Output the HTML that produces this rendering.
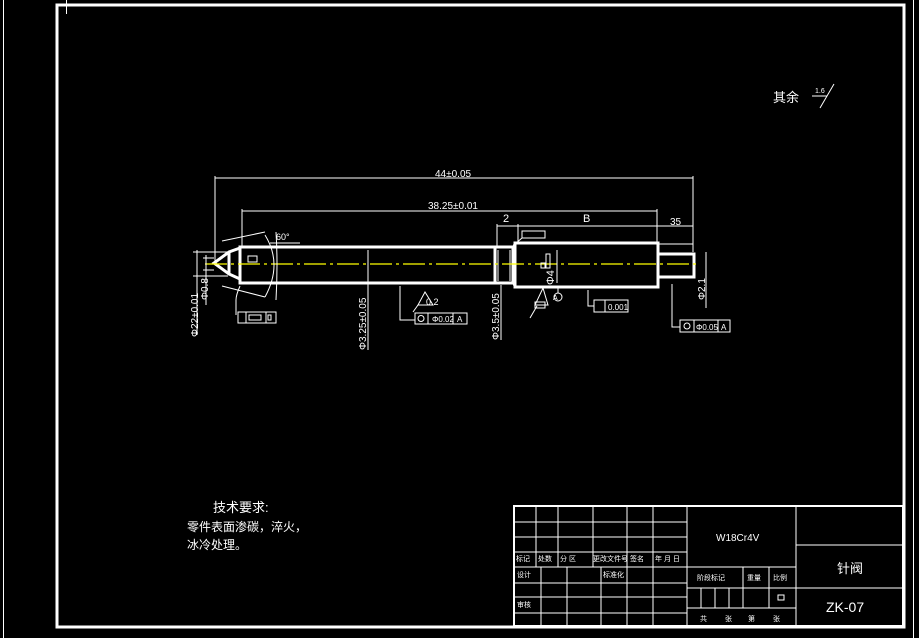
<!DOCTYPE html>
<html><head><meta charset="utf-8"><style>
html,body{margin:0;padding:0;background:#000;width:919px;height:638px;overflow:hidden}
svg{display:block}
text{fill:#fff;font-family:"Liberation Sans","Noto Sans CJK SC",sans-serif}
</style></head><body>
<svg width="919" height="638" viewBox="0 0 919 638">
<g stroke="#fff" fill="none">
<!-- frames -->
<line x1="3.5" y1="0" x2="3.5" y2="638" stroke-width="1"/>
<line x1="913.5" y1="0" x2="913.5" y2="638" stroke-width="1"/>
<rect x="57" y="5" width="847" height="622" stroke-width="3"/>
<line x1="66.5" y1="0" x2="66.5" y2="14" stroke-width="1"/>

<!-- shaft -->
<g stroke-width="3">
<rect x="240" y="247" width="255" height="36"/>
<rect x="495" y="247" width="18" height="36"/>
<rect x="515" y="243" width="143" height="44"/>
<rect x="658" y="254" width="36" height="23"/>
<path d="M240 248 L229 252 L214 263 L229 274 L240 279"/>
<line x1="229" y1="252" x2="229" y2="274"/>
<line x1="513" y1="249" x2="515" y2="244"/>
<line x1="513" y1="281" x2="515" y2="286"/>
</g>
<line x1="498" y1="250" x2="498" y2="281" stroke-width="1"/>
<line x1="510" y1="250" x2="510" y2="281" stroke-width="1"/>
</g>
<!-- centerline -->
<line x1="205" y1="264" x2="700" y2="264" stroke="#ff0" stroke-width="1.2" stroke-dasharray="22,4,3,4"/>

<g stroke="#fff" fill="none" stroke-width="1">
<!-- dimensions top -->
<line x1="215" y1="178" x2="693" y2="178"/>
<line x1="215" y1="176" x2="215" y2="263"/>
<line x1="693" y1="176" x2="693" y2="252"/>
<line x1="242" y1="211" x2="657" y2="211"/>
<line x1="242" y1="209" x2="242" y2="246"/>
<line x1="657" y1="209" x2="657" y2="242"/>
<line x1="497" y1="226" x2="693" y2="226"/>
<line x1="497" y1="224" x2="497" y2="246"/>
<line x1="518" y1="224" x2="518" y2="242"/>
<line x1="657" y1="244" x2="693" y2="244"/>
<!-- left diameter dims -->
<line x1="197" y1="250" x2="197" y2="335"/>
<line x1="206" y1="255" x2="206" y2="305"/>
<line x1="193" y1="252" x2="228" y2="252"/>
<line x1="193" y1="276" x2="228" y2="276"/>
<line x1="203" y1="258" x2="214" y2="258"/>
<line x1="203" y1="270" x2="214" y2="270"/>
<!-- arcs -->
<path d="M265 235 Q283 264 265 297"/>
<path d="M276 232 Q278 264 276 300"/>
<path d="M222 241 L265 232"/>
<path d="M222 286 L265 297"/>
<path d="M270 243 L300 243"/>
<rect x="248" y="256" width="9" height="6"/>
<!-- left frame tolerance box -->
<path d="M240 286 Q236 295 236 300 L236 315"/>
<rect x="238" y="312" width="38" height="11"/>
<line x1="246" y1="312" x2="246" y2="323"/>
<rect x="249" y="315" width="12" height="5"/>
<line x1="266" y1="312" x2="266" y2="323"/>
<rect x="268" y="315" width="3" height="5"/>
<!-- phi 3.25 -->
<line x1="368" y1="250" x2="368" y2="350"/>
<!-- roughness 0.2 -->
<path d="M400 286 L400 320 L415 320"/>
<rect x="415" y="313" width="52" height="11"/>
<line x1="428" y1="313" x2="428" y2="324"/>
<line x1="453" y1="313" x2="453" y2="324"/>
<circle cx="421" cy="318.5" r="3"/>
<path d="M418 305 L433 305 L425 292 Z"/>
<line x1="418" y1="305" x2="413" y2="312"/>
<!-- phi 3.5 -->
<line x1="501" y1="285" x2="501" y2="340"/>
<!-- middle -->
<rect x="522" y="231" width="23" height="7"/>
<line x1="522" y1="238" x2="515" y2="244"/>
<rect x="546" y="254" width="4" height="14"/>
<rect x="541" y="263" width="4" height="5"/>
<line x1="557" y1="250" x2="557" y2="283"/>
<path d="M535 305 L548 305 L543 288 Z"/>
<line x1="537" y1="306" x2="530" y2="318"/>
<rect x="535" y="302" width="10" height="6"/>
<circle cx="558" cy="297" r="4"/>
<line x1="558" y1="287" x2="558" y2="293"/>
<path d="M588 290 L588 306 L594 306"/>
<rect x="594" y="300" width="34" height="12"/>
<line x1="605" y1="300" x2="605" y2="312"/>
<!-- right -->
<line x1="706" y1="252" x2="706" y2="308"/>
<path d="M672 284 L672 327 L680 327"/>
<rect x="680" y="320" width="50" height="12"/>
<line x1="694" y1="320" x2="694" y2="332"/>
<line x1="718" y1="320" x2="718" y2="332"/>
<circle cx="687" cy="326" r="3"/>
<!-- roughness symbol top right -->
<path d="M812 96 L827 96 L820 108 L834 84"/>

<!-- title block -->
<rect x="514" y="506" width="389" height="120" stroke-width="2"/>
<g>
<line x1="514" y1="522" x2="687" y2="522"/>
<line x1="514" y1="537" x2="687" y2="537"/>
<line x1="514" y1="552" x2="687" y2="552"/>
<line x1="514" y1="567" x2="796" y2="567"/>
<line x1="514" y1="583" x2="687" y2="583"/>
<line x1="514" y1="597" x2="687" y2="597"/>
<line x1="514" y1="613" x2="687" y2="613"/>
<line x1="536" y1="506" x2="536" y2="567"/>
<line x1="558" y1="506" x2="558" y2="567"/>
<line x1="593" y1="506" x2="593" y2="567"/>
<line x1="627" y1="506" x2="627" y2="626"/>
<line x1="653" y1="506" x2="653" y2="626"/>
<line x1="541" y1="567" x2="541" y2="626"/>
<line x1="567" y1="567" x2="567" y2="626"/>
<line x1="601" y1="567" x2="601" y2="626"/>
<line x1="687" y1="506" x2="687" y2="626"/>
<line x1="796" y1="506" x2="796" y2="626"/>
<line x1="687" y1="588" x2="903" y2="588"/>
<line x1="687" y1="608" x2="796" y2="608"/>
<line x1="796" y1="545" x2="903" y2="545"/>
<line x1="743" y1="567" x2="743" y2="608"/>
<line x1="769" y1="567" x2="769" y2="608"/>
<line x1="701" y1="588" x2="701" y2="608"/>
<line x1="715" y1="588" x2="715" y2="608"/>
<line x1="729" y1="588" x2="729" y2="608"/>
<rect x="778" y="595" width="6" height="5"/>
</g>
</g>

<!-- texts -->
<g font-size="9">
<text x="435" y="177" font-size="10">44±0.05</text>
<text x="428" y="209" font-size="10">38.25±0.01</text>
<text x="503" y="222" font-size="11">2</text>
<text x="583" y="222" font-size="11">B</text>
<text x="670" y="225" font-size="10">35</text>
<text x="276" y="240" font-size="9">60°</text>
<text x="426" y="305" font-size="9">0.2</text>
<text x="432" y="322" font-size="8">Φ0.02</text>
<text x="457" y="322" font-size="8">A</text>
<text x="608" y="310" font-size="8">0.001</text>
<text x="696" y="330" font-size="8">Φ0.05</text>
<text x="721" y="330" font-size="8">A</text>
<text transform="translate(198,337) rotate(-90)" font-size="10">Φ22±0.01</text>
<text transform="translate(208,300) rotate(-90)" font-size="10">Φ0.8</text>
<text transform="translate(366,350) rotate(-90)" font-size="10">Φ3.25±0.05</text>
<text transform="translate(499,340) rotate(-90)" font-size="10">Φ3.5±0.05</text>
<text transform="translate(554,285) rotate(-90)" font-size="11">Φ4</text>
<text transform="translate(705,300) rotate(-90)" font-size="10">Φ2.1</text>
<text x="553" y="300" font-size="7">A</text>
<text x="815" y="93" font-size="7">1.6</text>
<text x="773" y="102" font-size="13">其余</text>
<text x="213" y="512" font-size="13">技术要求:</text>
<text x="187" y="531" font-size="12">零件表面渗碳，淬火，</text>
<text x="187" y="549" font-size="12">冰冷处理。</text>
<text x="716" y="541" font-size="10" font-family="Liberation Mono">W18Cr4V</text>
<text x="837" y="573" font-size="13">针阀</text>
<text x="826" y="612" font-size="14">ZK-07</text>
<g font-size="7">
<text x="516" y="561">标记</text><text x="538" y="561">处数</text><text x="560" y="561">分 区</text>
<text x="593" y="561">更改文件号</text><text x="630" y="561">签名</text><text x="655" y="561">年 月 日</text>
<text x="517" y="577">设计</text><text x="603" y="577">标准化</text>
<text x="517" y="607">审核</text>
<text x="697" y="580">阶段标记</text><text x="747" y="580">重量</text><text x="773" y="580">比例</text>
<text x="700" y="621">共</text><text x="725" y="621">张</text><text x="748" y="621">第</text><text x="773" y="621">张</text>
</g>
</g>
</svg>
</body></html>
